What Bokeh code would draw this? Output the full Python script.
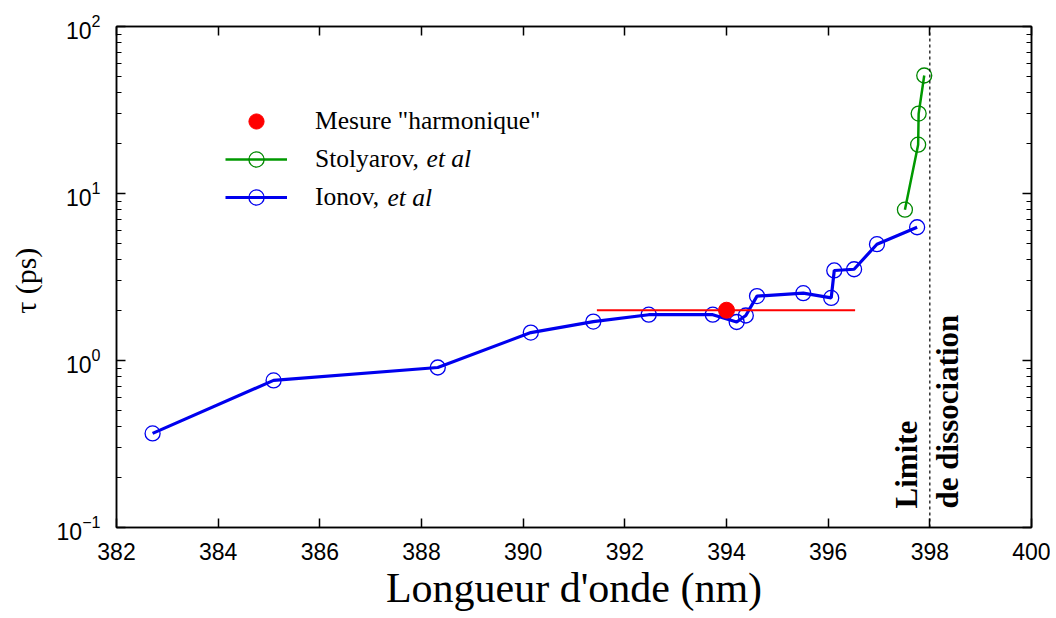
from bokeh.plotting import figure
from bokeh.models import (Range1d, FixedTicker, LogAxis, LinearAxis, Span, Label,
                          Legend, LegendItem)
from bokeh.embed import file_html
from bokeh.resources import INLINE
from math import pi

# ---- data ----
ionov_x = [382.71, 385.09, 388.32, 390.15, 391.38, 392.47, 393.73, 394.20,
           394.38, 394.60, 395.51, 396.06, 396.12, 396.51, 396.96, 397.75]
ionov_y = [0.366, 0.76, 0.908, 1.47, 1.71, 1.88, 1.88, 1.70,
           1.86, 2.43, 2.53, 2.37, 3.46, 3.52, 4.97, 6.28]
stol_x = [397.51, 397.77, 397.78, 397.89]
stol_y = [8.0, 19.6, 30.1, 50.9]
harm_x = [394.0]
harm_y = [2.0]
harm_xmin = [391.45]
harm_xmax = [396.53]
dissociation_limit = 398.0

x_ticks = [382, 384, 386, 388, 390, 392, 394, 396, 398, 400]
y_ticks = [0.1, 1, 10, 100]
y_minor = [m * d for d in [0.1, 1, 10] for m in range(2, 10)]

SERIF = "Liberation Serif"
SANS = "Liberation Sans"

p = figure(width=1050, height=616, x_range=Range1d(382, 400),
           y_range=Range1d(0.1, 100), y_axis_type="log",
           output_backend="svg", toolbar_location=None,
           min_border_left=116, min_border_right=19, min_border_top=26,
           min_border_bottom=89)
p.xgrid.visible = False
p.ygrid.visible = False
p.outline_line_color = "black"
p.outline_line_width = 1.5
p.background_fill_color = "white"
p.border_fill_color = "white"

xt = FixedTicker(ticks=x_ticks)
yt = FixedTicker(ticks=y_ticks, minor_ticks=y_minor)

for ax in p.xaxis:
    ax.ticker = xt
    ax.axis_label = "Longueur d'onde (nm)"
    ax.axis_label_text_font = SERIF
    ax.axis_label_text_font_style = "normal"
    ax.axis_label_text_font_size = "42px"
    ax.axis_label_text_color = "black"
    ax.axis_label_standoff = 2
    ax.major_label_text_font = SANS
    ax.major_label_text_font_size = "23px"
    ax.major_label_text_color = "black"
    ax.major_label_standoff = 15
    ax.major_tick_in = 9
    ax.major_tick_out = 0
    ax.minor_tick_line_color = None
    ax.axis_line_width = 1.5
    ax.major_tick_line_width = 1.5

for ax in p.yaxis:
    ax.ticker = yt
    ax.axis_label = "τ  (ps)"
    ax.axis_label_text_font = SERIF
    ax.axis_label_text_font_style = "normal"
    ax.axis_label_text_font_size = "30px"
    ax.axis_label_text_color = "black"
    ax.axis_label_standoff = 12
    ax.major_label_text_font = SANS
    ax.major_label_text_font_size = "23px"
    ax.major_label_text_color = "black"
    ax.major_label_standoff = 16
    ax.major_tick_in = 9
    ax.major_tick_out = 0
    ax.minor_tick_in = 5
    ax.minor_tick_out = 0
    ax.axis_line_width = 1.5
    ax.major_tick_line_width = 1.5

top = LinearAxis(ticker=xt, major_label_text_font_size="1px",
                 major_label_text_color=None,
                 major_label_standoff=0, major_tick_in=9, major_tick_out=0,
                 minor_tick_line_color=None, axis_line_width=1.5,
                 major_tick_line_width=1.5)
p.add_layout(top, "above")
right = LogAxis(ticker=yt, major_label_text_font_size="1px",
                major_label_text_color=None,
                major_label_standoff=0, major_tick_in=9, major_tick_out=0,
                minor_tick_in=5, minor_tick_out=0, axis_line_width=1.5,
                major_tick_line_width=1.5)
p.add_layout(right, "right")

# dissociation limit
p.add_layout(Span(location=dissociation_limit, dimension="height",
                  line_color="black", line_width=1.2, line_dash="3 3"))

# Ionov
ion_line = p.line(ionov_x, ionov_y, line_color="#0000ee", line_width=3.2)
ion_pts = p.scatter(ionov_x, ionov_y, marker="circle", size=15,
                    fill_color=None, line_color="#0000ee", line_width=1.3)
# Stolyarov
sto_line = p.line(stol_x, stol_y, line_color="#009900", line_width=2.5)
sto_pts = p.scatter(stol_x, stol_y, marker="circle", size=15,
                    fill_color=None, line_color="#008800", line_width=1.3)
# harmonic measurement
p.segment(harm_xmin, harm_y, harm_xmax, harm_y, line_color="red", line_width=2)
harm_pt = p.scatter(harm_x, harm_y, marker="circle", size=16,
                    fill_color="red", line_color="red")

legend = Legend(items=[
    LegendItem(label='Mesure "harmonique"', renderers=[harm_pt]),
    LegendItem(label="Stolyarov,", renderers=[sto_line, sto_pts]),
    LegendItem(label="Ionov,", renderers=[ion_line, ion_pts]),
], location=(109, 311), glyph_width=62, glyph_height=38, label_height=38,
   spacing=0, padding=0, margin=0, label_standoff=28,
   label_text_font=SERIF, label_text_font_size="25.5px", label_text_color="black",
   border_line_alpha=0, background_fill_alpha=0)
p.add_layout(legend)

# italic "et al" completions of the legend labels
p.add_layout(Label(x=388.10, y=16.2, text="et al", text_font=SERIF,
                   text_font_style="italic", text_font_size="25.5px",
                   text_baseline="middle", text_color="black"))
p.add_layout(Label(x=387.33, y=9.47, text="et al", text_font=SERIF,
                   text_font_style="italic", text_font_size="25.5px",
                   text_baseline="middle", text_color="black"))

# rotated annotation
p.add_layout(Label(x=397.55, y=0.13, text="Limite", angle=pi / 2,
                   text_font=SERIF, text_font_style="bold",
                   text_font_size="31px", text_baseline="alphabetic",
                   text_align="left", text_color="black"))
p.add_layout(Label(x=398.35, y=0.13, text="de dissociation", angle=pi / 2,
                   text_font=SERIF, text_font_style="bold",
                   text_font_size="31px", text_baseline="alphabetic",
                   text_align="left", text_color="black"))

open("out.html", "w").write(file_html(p, INLINE))
